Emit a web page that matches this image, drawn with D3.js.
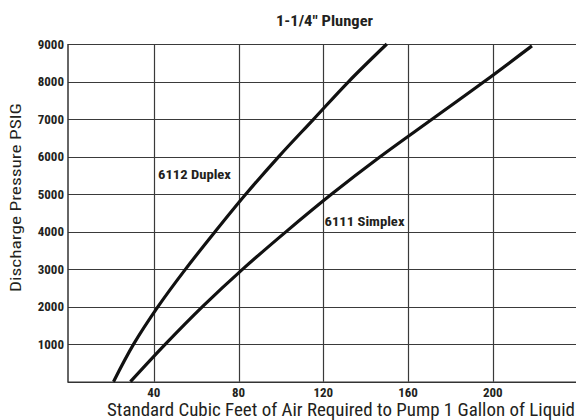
<!DOCTYPE html>
<html>
<head>
<meta charset="utf-8">
<title>1-1/4" Plunger</title>
<script src="https://cdn.jsdelivr.net/npm/d3@7"></script>
<style>
  body { margin: 0; background: #fff; }
  text { font-family: "Liberation Sans Narrow", "Arial Narrow", "Roboto Condensed", Roboto, sans-serif; fill: #231f20; }
</style>
</head>
<body>
<script>
// data (x = SCF of air per gallon, y = PSIG)
var duplexX  = [21, 30.5, 42, 55, 69, 83.5, 99, 115.5, 132, 150];
var duplexY  = [0, 1000, 2000, 3000, 4000, 5000, 6000, 7000, 8000, 9000];
var simplexX = [29, 45.5, 63, 82, 102.5, 124, 147, 171.5, 196, 218.5];
var simplexY = [0, 1000, 2000, 3000, 4000, 5000, 6000, 7000, 8000, 8950];
var xTicks = [40, 80, 120, 160, 200];
var yTicks = [1000, 2000, 3000, 4000, 5000, 6000, 7000, 8000, 9000];

var W = 576, H = 420;
var plotL = 68, plotT = 44, plotB = 381.7;

var svg = d3.select("body").append("svg")
    .attr("width", W).attr("height", H);

var x = d3.scaleLinear().domain([0, 240]).range([69, 577.5]);
var y = d3.scaleLinear().domain([0, 9000]).range([plotB, plotT]);

// grid
svg.selectAll(".vg").data(xTicks).enter().append("line")
    .attr("x1", function(d){ return Math.round(x(d)) + 0.5; })
    .attr("x2", function(d){ return Math.round(x(d)) + 0.5; })
    .attr("y1", plotT).attr("y2", plotB)
    .attr("stroke", "#3a3a3a").attr("stroke-width", 1.2);
svg.selectAll(".hg").data(yTicks).enter().append("line")
    .attr("x1", plotL).attr("x2", W)
    .attr("y1", function(d){ return Math.round(y(d)) + 0.5; })
    .attr("y2", function(d){ return Math.round(y(d)) + 0.5; })
    .attr("stroke", "#3a3a3a").attr("stroke-width", 1.2);

// axes frame
svg.append("line").attr("x1", plotL).attr("x2", plotL).attr("y1", plotT).attr("y2", plotB + 1)
    .attr("stroke", "#333").attr("stroke-width", 1.5);
svg.append("line").attr("x1", plotL).attr("x2", W).attr("y1", plotB + 0.5).attr("y2", plotB + 0.5)
    .attr("stroke", "#333").attr("stroke-width", 1.5);

// tick labels
svg.selectAll(".xt").data(xTicks).enter().append("text")
    .attr("x", function(d){ return x(d); })
    .attr("y", 397)
    .attr("text-anchor", "middle")
    .attr("font-size", 13).attr("font-weight", "bold")
    .text(function(d){ return d; });
svg.selectAll(".yt").data(yTicks).enter().append("text")
    .attr("x", 64)
    .attr("y", function(d){ return y(d) + 4.6; })
    .attr("text-anchor", "end")
    .attr("font-size", 13).attr("font-weight", "bold")
    .text(function(d){ return d; });

// curves
var line = d3.line().curve(d3.curveCatmullRom.alpha(0.5))
    .x(function(d){ return x(d[0]); })
    .y(function(d){ return y(d[1]); });

svg.append("path").datum(d3.zip(duplexX, duplexY))
    .attr("d", line).attr("fill", "none")
    .attr("stroke", "#111").attr("stroke-width", 3.2).attr("stroke-linejoin", "round");
svg.append("path").datum(d3.zip(simplexX, simplexY))
    .attr("d", line).attr("fill", "none")
    .attr("stroke", "#111").attr("stroke-width", 3.2).attr("stroke-linejoin", "round");

// curve labels
svg.append("text").attr("x", 158).attr("y", 179)
    .attr("font-size", 13.5).attr("font-weight", "bold")
    .attr("textLength", 73).attr("lengthAdjust", "spacingAndGlyphs")
    .text("6112 Duplex");
svg.append("text").attr("x", 324.5).attr("y", 226)
    .attr("font-size", 13.5).attr("font-weight", "bold")
    .attr("textLength", 80).attr("lengthAdjust", "spacingAndGlyphs")
    .text("6111 Simplex");

// title
svg.append("text").attr("x", 276).attr("y", 25.5)
    .attr("font-size", 15).attr("font-weight", "bold")
    .attr("textLength", 97).attr("lengthAdjust", "spacingAndGlyphs")
    .text("1-1/4\" Plunger");

// axis titles
svg.append("text").attr("x", 107).attr("y", 416)
    .attr("font-size", 17.5)
    .attr("textLength", 468).attr("lengthAdjust", "spacingAndGlyphs")
    .text("Standard Cubic Feet of Air Required to Pump 1 Gallon of Liquid");
svg.append("text")
    .attr("transform", "translate(21,292) rotate(-90)")
    .attr("font-size", 15.5)
    .attr("textLength", 189).attr("lengthAdjust", "spacingAndGlyphs")
    .text("Discharge Pressure PSIG");
</script>
</body>
</html>
